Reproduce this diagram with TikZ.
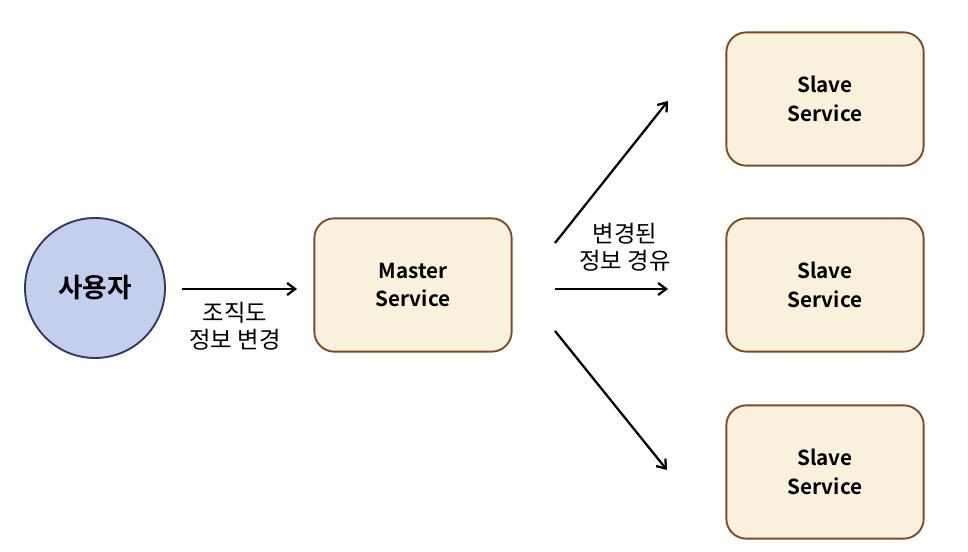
\documentclass[tikz,border=0pt]{standalone}
\usepackage{fontspec}
\usetikzlibrary{arrows.meta,positioning}
\newfontfamily\krfont{Noto Sans CJK KR}
\newfontfamily\krbold{Noto Sans CJK KR Bold}
\definecolor{userfill}{HTML}{C4CFEE}
\definecolor{userline}{HTML}{2E3A5E}
\definecolor{svcfill}{HTML}{F9F1DC}
\definecolor{svcline}{HTML}{7A4A28}
\tikzset{
  usernode/.style={circle, fill=userfill, draw=userline, line width=1.4pt, minimum size=105pt, inner sep=0pt, font=\krbold\fontsize{20}{22}\selectfont},
  svc/.style={rectangle, rounded corners=15pt, fill=svcfill, draw=svcline, line width=1.4pt, minimum width=148pt, minimum height=100pt, align=center, font=\krbold\fontsize{15.5}{21.5}\selectfont},
  flow/.style={-{Straight Barb[length=6pt,width=9pt,line width=1.7pt]}, line width=1.7pt},
  lbl/.style={align=center, font=\krfont\fontsize{17.5}{20.5}\selectfont},
}
\begin{document}
\begin{tikzpicture}[x=0.75pt, y=-0.75pt]
  \useasboundingbox (0,0) rectangle (968,552);
  % nodes
  \node[usernode] (user) at (95,288) {사용자};
  \node[svc] (master) at (413,285) {Master\\Service};
  \node[svc] (slaveA) at (825,99) {Slave\\Service};
  \node[svc] (slaveB) at (825,285) {Slave\\Service};
  \node[svc] (slaveC) at (825,472) {Slave\\Service};
  % arrow ends
  \coordinate (u0) at (182,289);
  \coordinate (u1) at (297,289);
  \coordinate (m0) at (555,243);
  \coordinate (m1) at (668,101);
  \coordinate (n0) at (555,289);
  \coordinate (n1) at (668,289);
  \coordinate (k0) at (555,331);
  \coordinate (k1) at (667,470);
  \draw[flow] (u0) -- (u1);
  \draw[flow] (m0) -- (m1);
  \draw[flow] (n0) -- (n1);
  \draw[flow] (k0) -- (k1);
  % labels
  \node[lbl] (chg) at (235,326) {조직도\\정보 변경};
  \node[lbl] (via) at (625,247) {변경된\\정보 경유};
\end{tikzpicture}
\end{document}
